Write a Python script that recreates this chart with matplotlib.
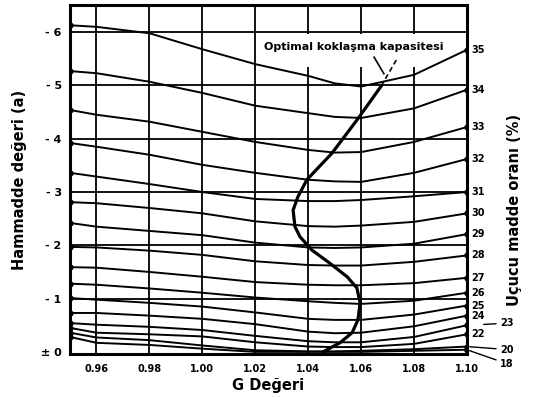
import matplotlib
matplotlib.use("Agg")
import matplotlib.pyplot as plt
from matplotlib.patches import Rectangle

# ---- data ----
g_values = [0.95, 0.96, 0.98, 1.00, 1.02, 1.04, 1.05, 1.06, 1.08, 1.10]
volatile_labels = ["35", "34", "33", "32", "31", "30", "29", "28", "27", "26", "25", "24", "23", "22", "20", "18"]
line_35 = [6.13, 6.10, 5.98, 5.68, 5.40, 5.18, 5.04, 4.98, 5.20, 5.67]
line_34 = [5.27, 5.23, 5.07, 4.86, 4.62, 4.48, 4.41, 4.39, 4.57, 4.92]
line_33 = [4.54, 4.45, 4.32, 4.13, 3.94, 3.79, 3.74, 3.75, 3.94, 4.22]
line_32 = [3.92, 3.85, 3.70, 3.51, 3.36, 3.23, 3.20, 3.19, 3.36, 3.62]
line_31 = [3.36, 3.29, 3.15, 3.00, 2.87, 2.83, 2.83, 2.85, 2.92, 3.00]
line_30 = [2.81, 2.79, 2.70, 2.60, 2.45, 2.36, 2.35, 2.37, 2.44, 2.60]
line_29 = [2.42, 2.35, 2.27, 2.19, 2.05, 1.96, 1.95, 1.96, 2.03, 2.21]
line_28 = [1.97, 1.96, 1.90, 1.82, 1.70, 1.63, 1.62, 1.62, 1.69, 1.81]
line_27 = [1.59, 1.58, 1.50, 1.41, 1.31, 1.26, 1.25, 1.25, 1.29, 1.39]
line_26 = [1.28, 1.26, 1.19, 1.11, 1.02, 0.95, 0.92, 0.90, 0.96, 1.11]
line_25 = [1.01, 0.98, 0.92, 0.85, 0.74, 0.62, 0.60, 0.60, 0.70, 0.87]
line_24 = [0.73, 0.73, 0.68, 0.62, 0.52, 0.38, 0.35, 0.36, 0.48, 0.68]
line_23 = [0.54, 0.51, 0.47, 0.41, 0.30, 0.20, 0.18, 0.18, 0.28, 0.50]
line_22 = [0.45, 0.36, 0.33, 0.29, 0.18, 0.10, 0.09, 0.09, 0.15, 0.33]
line_20 = [0.36, 0.27, 0.22, 0.12, 0.03, 0.01, 0.01, 0.02, 0.05, 0.10]
line_18 = [0.28, 0.17, 0.13, 0.06, 0.00, 0.00, 0.00, 0.00, 0.02, 0.04]
all_lines = [line_35, line_34, line_33, line_32, line_31, line_30, line_29, line_28,
             line_27, line_26, line_25, line_24, line_23, line_22, line_20, line_18]

optimal_g = [1.0456, 1.052, 1.0566, 1.0588, 1.0596, 1.0584, 1.0547, 1.048, 1.0414,
             1.0369, 1.035, 1.0343, 1.0361, 1.0395, 1.049, 1.059, 1.0676]
optimal_a = [0.00, 0.17, 0.36, 0.60, 0.92, 1.20, 1.41, 1.67, 1.91,
             2.16, 2.35, 2.66, 2.91, 3.23, 3.73, 4.39, 4.99]

x_ticks = [0.96, 0.98, 1.00, 1.02, 1.04, 1.06, 1.08, 1.10]
x_tick_labels = ["0.96", "0.98", "1.00", "1.02", "1.04", "1.06", "1.08", "1.10"]
y_ticks = [0, 1, 2, 3, 4, 5, 6]
y_tick_labels = ["± 0", "- 1", "- 2", "- 3", "- 4", "- 5", "- 6"]

# ---- figure ----
fig = plt.figure(figsize=(5.35, 3.98), dpi=100)
ax = fig.add_axes([70 / 535, 1 - 354 / 398, 397 / 535, 349 / 398])
ax.set_xlim(0.95, 1.10)
ax.set_ylim(-0.04, 6.51)

for xv in x_ticks[:-1]:
    ax.axvline(xv, color="black", lw=1.3, zorder=1)
for yv in y_ticks[1:]:
    ax.axhline(yv, color="black", lw=1.3, zorder=1)

# white box behind the annotation text
ax.add_patch(Rectangle((1.0225, 5.35), 1.0989 - 1.0225, 5.97 - 5.35,
                       facecolor="white", edgecolor="none", zorder=1.5))

for vals in all_lines:
    ax.plot(g_values, vals, color="black", lw=1.4, zorder=3)
    ax.plot([g_values[0], g_values[-1]], [vals[0], vals[-1]], "o",
            color="black", ms=3.5, zorder=4)

ax.plot(optimal_g, optimal_a, color="black", lw=2.3, zorder=5)
# dashed continuation and leader lines to the label
ax.plot([1.0676, 1.0739], [4.99, 5.53], color="black", lw=1.2, ls=(0, (3, 2)), zorder=5)
ax.plot([1.0649, 1.0686], [5.53, 5.22], color="black", lw=1.2, zorder=5)

ax.text(1.0572, 5.72, "Optimal koklaşma kapasitesi", ha="center", va="center",
        fontsize=8, fontweight="bold", zorder=6)

for sp in ax.spines.values():
    sp.set_linewidth(2.2)

ax.set_xticks(x_ticks)
ax.set_xticklabels(x_tick_labels, fontsize=7, fontweight="bold")
ax.set_yticks(y_ticks)
ax.set_yticklabels(y_tick_labels, fontsize=8, fontweight="bold")
ax.tick_params(length=0, pad=7)
ax.tick_params(axis="y", pad=6)

ax.set_xlabel("G Değeri", fontsize=10.5, fontweight="bold", labelpad=3)
ax.set_ylabel("Hammadde değeri (a)", fontsize=10.5, fontweight="bold", labelpad=10)
fig.text(515 / 535, 1 - 210 / 398, "Uçucu madde oranı (%)", rotation=90,
         ha="center", va="center", fontsize=10.5, fontweight="bold")

# right-hand labels of volatile matter
special = {"23": (40, 2), "20": (40, -3), "18": (40, -14)}
for lab, vals in zip(volatile_labels, all_lines):
    y_end = vals[-1]
    if lab in special:
        dx, dy = special[lab]
        ax.annotate(lab, xy=(1.10, y_end), xytext=(dx, dy), textcoords="offset pixels",
                    ha="center", va="center", fontsize=7, fontweight="bold",
                    annotation_clip=False,
                    arrowprops=dict(arrowstyle="-", color="black", lw=1,
                                    shrinkA=1, shrinkB=2 if lab != "23" else 12))
    else:
        ax.annotate(lab, xy=(1.10, y_end), xytext=(11, 0), textcoords="offset pixels",
                    ha="center", va="center", fontsize=7, fontweight="bold",
                    annotation_clip=False)

fig.savefig("out.png", dpi=100)
